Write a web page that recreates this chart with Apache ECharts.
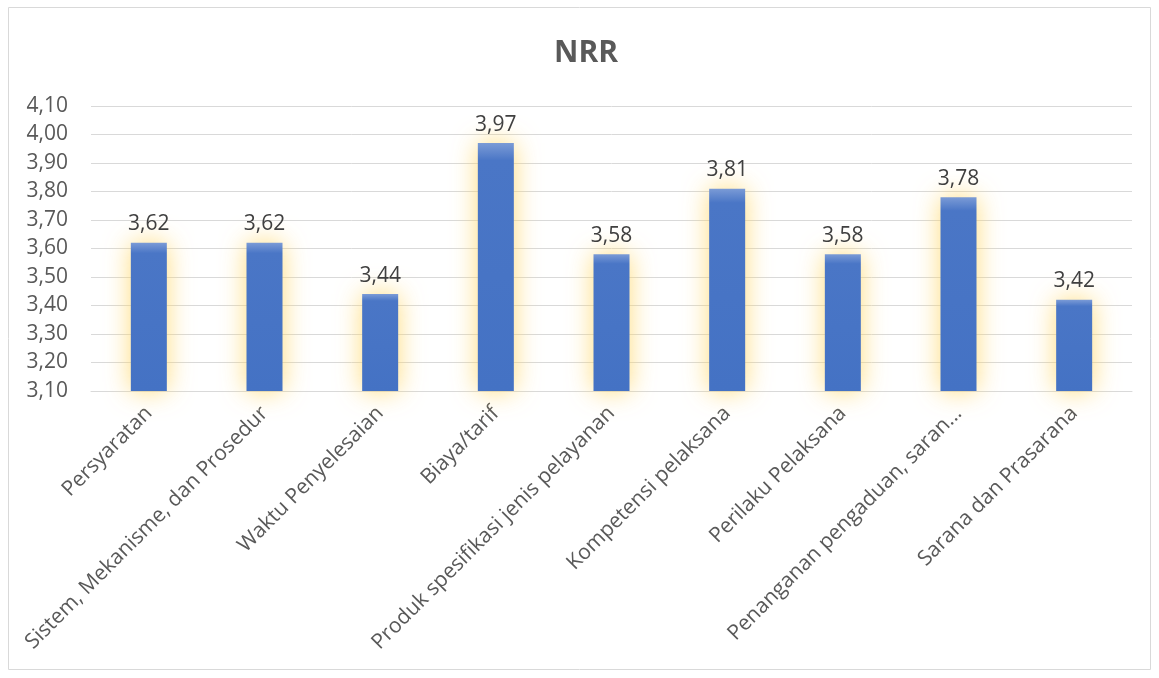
<!DOCTYPE html>
<html><head><meta charset="utf-8">
<script src="https://cdn.jsdelivr.net/npm/echarts@6/dist/echarts.min.js"></script>
<style>html,body{margin:0;padding:0;background:#fff}#c{width:1159px;height:678px}</style>
</head><body><div id="c"></div>
<script>
const categories = ["Persyaratan","Sistem, Mekanisme, dan Prosedur","Waktu Penyelesaian","Biaya/tarif","Produk spesifikasi jenis pelayanan","Kompetensi pelaksana","Perilaku Pelaksana","Penanganan pengaduan, saran...","Sarana dan Prasarana"];
const values = [3.62,3.62,3.44,3.97,3.58,3.81,3.58,3.78,3.42];
const yMin = 3.1, yMax = 4.1, yStep = 0.1;
const fmt = v => v.toFixed(2).replace('.', ',');
const chart = echarts.init(document.getElementById('c'));
chart.setOption({
  animation:false,
  textStyle:{fontFamily:'Open Sans'},
  graphic:[{type:'rect',shape:{x:8.5,y:7.5,width:1142,height:662},style:{fill:'none',stroke:'#d9d9d9',lineWidth:1},z:-1}],
  title:{text:'NRR',left:549,top:33,textStyle:{fontFamily:'Open Sans',fontWeight:'bold',fontSize:30,color:'#595959'}},
  grid:{left:91,right:27,top:106,bottom:287},
  xAxis:{type:'category',data:categories,
    axisLine:{lineStyle:{color:'#d9d9d9'}},axisTick:{show:false},
    axisLabel:{rotate:45,interval:0,fontSize:21,color:'#595959',margin:19}},
  yAxis:{type:'value',min:yMin,max:yMax,interval:yStep,
    axisLine:{show:false},axisTick:{show:false},
    splitLine:{lineStyle:{color:'#d9d9d9'}},
    axisLabel:{formatter:v=>fmt(v),fontSize:21,color:'#595959',margin:23}},
  series:[{type:'bar',data:values,barWidth:36,
    itemStyle:{color:new echarts.graphic.LinearGradient(0,0,0,1,[{offset:0,color:'#7b9bd6'},{offset:0.07,color:'#4a76c6'},{offset:1,color:'#4472c4'}]),
      shadowBlur:26,shadowColor:'rgba(255,214,100,0.85)'},
    label:{show:true,position:'top',distance:8,formatter:p=>fmt(p.value),fontSize:21,color:'#404040'}}]
});
</script></body></html>
